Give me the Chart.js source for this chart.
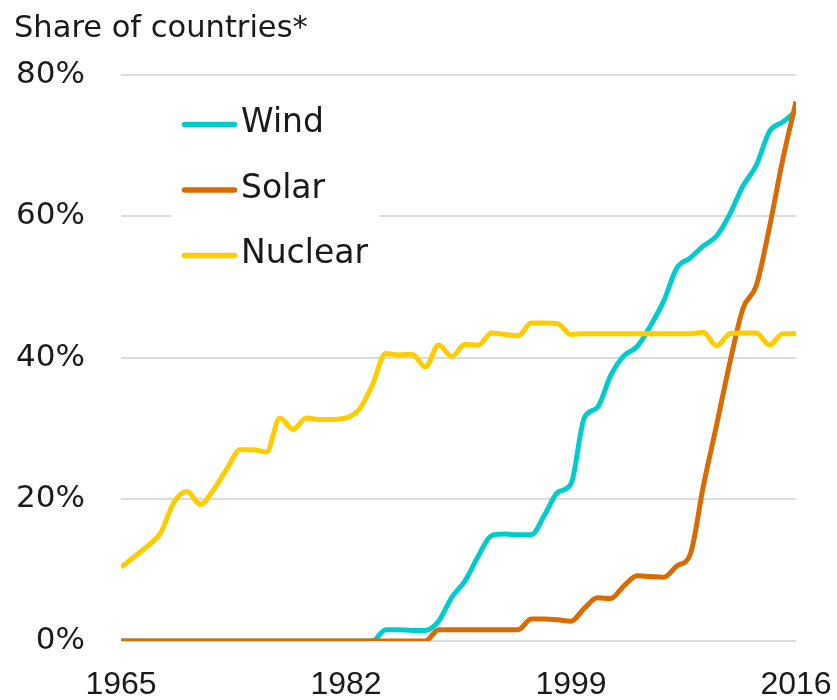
<!DOCTYPE html>
<html>
<head>
<meta charset="utf-8">
<title>Share of countries using wind, solar and nuclear</title>
<script src="https://cdn.jsdelivr.net/npm/chart.js@4.4.1/dist/chart.umd.min.js"></script>
<style>
  html, body { margin: 0; padding: 0; background: #fff; }
  #chart { display: block; }
</style>
</head>
<body>
<canvas id="chart" width="837" height="700"></canvas>
<script>
// Data (share of countries, %).
const years = [
  1965, 1966, 1967, 1968, 1969, 1970, 1971, 1972, 1973, 1974,
  1975, 1976, 1977, 1978, 1979, 1980, 1981, 1982, 1983, 1984,
  1985, 1986, 1987, 1988, 1989, 1990, 1991, 1992, 1993, 1994,
  1995, 1996, 1997, 1998, 1999, 2000, 2001, 2002, 2003, 2004,
  2005, 2006, 2007, 2008, 2009, 2010, 2011, 2012, 2013, 2014,
  2015, 2016
];

const wind = [
  0, 0, 0, 0, 0, 0, 0, 0, 0, 0,
  0, 0, 0, 0, 0, 0, 0, 0, 0, 0,
  1.6, 1.6, 1.5, 1.5, 2.8, 6.2, 8.5, 12.0, 14.9, 15.1,
  15.0, 15.0, 17.8, 21.0, 22.2, 31.5, 33.0, 37.5, 40.3, 41.6,
  44.5, 48.0, 52.7, 54.1, 55.8, 57.2, 60.3, 64.3, 67.2, 72.0,
  73.3, 74.8
];

const solar = [
  0, 0, 0, 0, 0, 0, 0, 0, 0, 0,
  0, 0, 0, 0, 0, 0, 0, 0, 0, 0,
  0, 0, 0, 0, 1.6, 1.6, 1.6, 1.6, 1.6, 1.6,
  1.6, 3.1, 3.1, 3.0, 2.8, 4.6, 6.1, 6.0, 7.8, 9.2,
  9.1, 9.0, 10.6, 12.2, 21.9, 30.5, 39.3, 47.0, 50.2, 58.5,
  68.0, 76.2
];

const nuclear = [
  10.4, 11.9, 13.4, 15.3, 19.6, 21.1, 19.3, 21.4, 24.3, 27.0,
  27.0, 26.7, 31.5, 29.9, 31.5, 31.3, 31.3, 31.5, 32.7, 36.2,
  40.6, 40.4, 40.5, 38.7, 41.8, 40.2, 41.9, 41.8, 43.5, 43.3,
  43.1, 44.9, 44.9, 44.8, 43.3, 43.4, 43.4, 43.4, 43.4, 43.4,
  43.4, 43.4, 43.4, 43.4, 43.6, 41.7, 43.4, 43.5, 43.5, 41.8,
  43.4, 43.4
];

const seriesNames = ['Wind', 'Solar', 'Nuclear'];
const xTicks = [1965, 1982, 1999, 2016];
const yTicks = [0, 20, 40, 60, 80];

const INK = '#1a1a1a';
const COL = { wind: '#00cccc', solar: '#d96b00', nuclear: '#ffcc00' };

Chart.defaults.font.family = '"DejaVu Sans", sans-serif';
Chart.defaults.color = INK;

function points(values) {
  return years.map((yr, i) => ({ x: yr, y: values[i] }));
}

// legend sits inside the plot, on a white box that hides the gridline
const insideLegend = {
  id: 'insideLegend',
  afterDatasetsDraw(chart) {
    const { ctx, chartArea } = chart;
    const x0 = chartArea.left, y0 = chartArea.top;
    ctx.save();
    ctx.fillStyle = '#fff';
    ctx.fillRect(x0 + 50, y0 + 17, 208, 193);
    ctx.font = '33px "DejaVu Sans"';
    ctx.textBaseline = 'middle';
    ctx.textAlign = 'left';
    ctx.lineCap = 'round';
    ctx.lineWidth = 5.5;
    chart.data.datasets.forEach((ds, i) => {
      const y = y0 + 50 + i * 65.5;
      ctx.strokeStyle = ds.borderColor;
      ctx.beginPath();
      ctx.moveTo(x0 + 63.5, y);
      ctx.lineTo(x0 + 113.5, y);
      ctx.stroke();
      ctx.fillStyle = INK;
      ctx.fillText(ds.label, x0 + 120, y - 1);
    });
    ctx.restore();
  }
};

new Chart(document.getElementById('chart'), {
  type: 'line',
  data: {
    datasets: [
      { label: seriesNames[0], data: points(wind), borderColor: COL.wind, backgroundColor: COL.wind, order: 3 },
      { label: seriesNames[1], data: points(solar), borderColor: COL.solar, backgroundColor: COL.solar, order: 2 },
      { label: seriesNames[2], data: points(nuclear), borderColor: COL.nuclear, backgroundColor: COL.nuclear, order: 1 },
    ],
  },
  options: {
    responsive: false,
    animation: false,
    layout: { padding: { left: 14, right: 41, top: 0, bottom: 0 } },
    elements: {
      point: { radius: 0, hoverRadius: 0 },
      line: { borderWidth: 5, cubicInterpolationMode: 'monotone', borderCapStyle: 'butt', fill: false },
    },
    plugins: {
      legend: { display: false },
      tooltip: { enabled: false },
      title: {
        display: true,
        text: 'Share of countries*',
        align: 'start',
        color: INK,
        font: { family: '"DejaVu Sans"', size: 30.5, weight: 'normal', lineHeight: 1.2 },
        padding: { top: 11, bottom: 27 },
      },
    },
    scales: {
      x: {
        type: 'linear',
        min: 1965,
        max: 2016,
        grid: { display: false },
        border: { display: false },
        afterBuildTicks: (s) => { s.ticks = xTicks.map((v) => ({ value: v })); },
        afterFit: (s) => { s.height = 59; s.paddingLeft = 0; s.paddingRight = 0; },
        ticks: {
          padding: 17,
          maxRotation: 0,
          color: INK,
          font: { family: '"Liberation Sans"', size: 32 },
          callback: (v) => String(v),
        },
      },
      y: {
        min: 0,
        max: 80,
        afterBuildTicks: (s) => { s.ticks = yTicks.map((v) => ({ value: v })); },
        afterFit: (s) => { s.width = 107; },
        grid: { color: '#dcdcdc', lineWidth: 2, drawTicks: false },
        border: { display: false },
        ticks: {
          padding: 36,
          color: INK,
          font: { family: '"DejaVu Sans"', size: 31 },
          callback: (v) => v + '%',
        },
      },
    },
  },
  plugins: [insideLegend],
});
</script>
</body>
</html>
